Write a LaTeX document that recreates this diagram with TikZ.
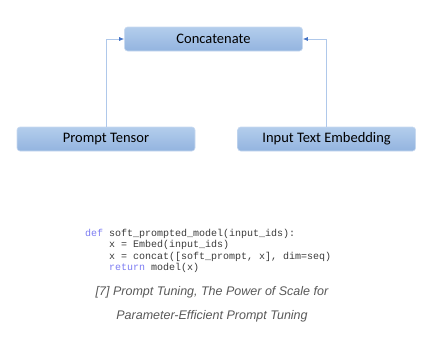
\documentclass[tikz,border=0pt]{standalone}
\usepackage{fontspec}
\setmainfont{Carlito}
\setsansfont{Liberation Sans}
\setmonofont{Liberation Mono}
\usetikzlibrary{arrows.meta,positioning}

\definecolor{boxtop}{HTML}{B3CDEC}
\definecolor{boxbot}{HTML}{93B4DF}
\definecolor{boxline}{HTML}{C9DAF0}
\definecolor{linkline}{HTML}{AFC8EA}
\definecolor{tipblue}{HTML}{4472C4}
\definecolor{kwblue}{HTML}{7C7CF2}
\definecolor{codegray}{HTML}{3A3A3A}
\definecolor{capgray}{HTML}{585858}

\newcommand{\kw}[1]{\textcolor{kwblue}{#1}}
\newcommand{\ind}{\phantom{def }}

\begin{document}
\begin{tikzpicture}[
  x=1pt, y=-1pt,
  font=\fontsize{14.5}{16}\selectfont,
  block/.style={draw=boxline, line width=0.6pt, rounded corners=3pt,
                top color=boxtop, bottom color=boxbot,
                minimum width=178pt, minimum height=24pt, inner sep=0pt},
  arr/.style={draw=linkline, line width=0.7pt,
              -{Latex[length=5pt,width=4pt,color=tipblue]}},
  code/.style={anchor=north west, align=left, inner sep=0pt,
               text=codegray, font=\ttfamily\fontsize{10}{11.4}\selectfont},
  caption/.style={align=center, inner sep=0pt, text=capgray,
                  font=\sffamily\itshape\fontsize{12.5}{24}\selectfont}
]
  \useasboundingbox (0,0) rectangle (445,348);

  \node[block] (concat) at (213.5,39) {Concatenate};
  \node[block] (prompt) at (106,139) {Prompt Tensor};
  \node[block, right=42pt of prompt] (embed) {Input Text Embedding};

  \draw[arr] (prompt.north) |- (concat.west);
  \draw[arr] (embed.north) |- (concat.east);

  \node[code] (src) at (85,229) {%
    \kw{def} soft\_prompted\_model(input\_ids):\\
    \ind x = Embed(input\_ids)\\
    \ind x = concat([soft\_prompt, x], dim=seq)\\
    \ind\kw{return} model(x)};

  \node[caption] (cite) at (212,304) {[7] Prompt Tuning, The Power of Scale for\\
    Parameter-Efficient Prompt Tuning};
\end{tikzpicture}
\end{document}
